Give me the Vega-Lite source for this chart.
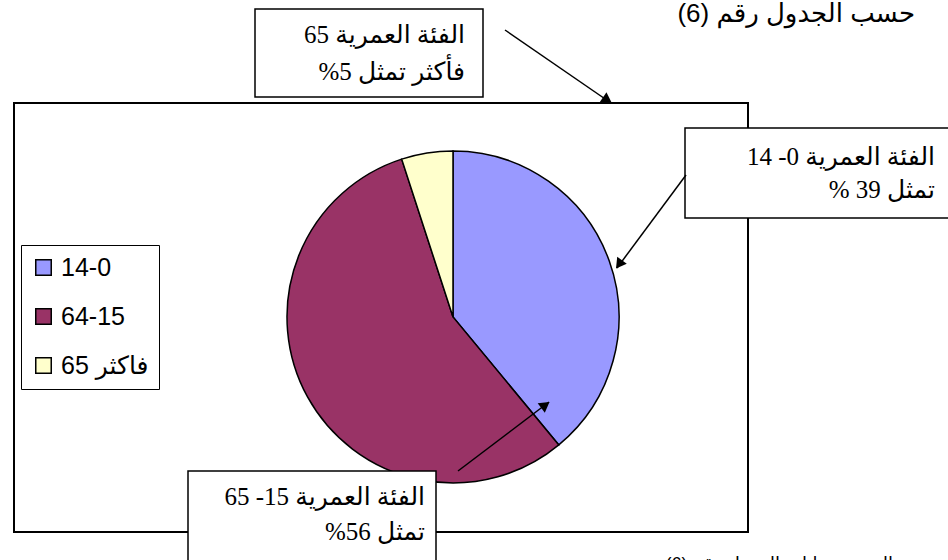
{
  "$schema": "https://vega.github.io/schema/vega-lite/v6.json",
  "width": 948,
  "height": 560,
  "padding": 0,
  "autosize": {"type": "none"},
  "background": "white",
  "config": {"view": {"stroke": null}},
  "datasets": {
    "pie": [
      {"group": "14-0", "share": 39, "rank": 1},
      {"group": "64-15", "share": 56, "rank": 2},
      {"group": "65 فاكثر", "share": 5, "rank": 3}
    ],
    "frame": [{"x1": 14, "y1": 103, "x2": 748, "y2": 532}],
    "boxes": [
      {"x1": 255, "y1": 9, "x2": 483, "y2": 97},
      {"x1": 685, "y1": 128, "x2": 960, "y2": 218},
      {"x1": 188, "y1": 471, "x2": 436, "y2": 590}
    ],
    "notes": [
      {"x": 465, "y": 43, "t": "‫الفئة العمرية 65‬"},
      {"x": 465, "y": 80, "t": "‫فأكثر تمثل 5%‬"},
      {"x": 935, "y": 165, "t": "‫الفئة العمرية 0- 14‬"},
      {"x": 935, "y": 198, "t": "‫تمثل 39 %‬"},
      {"x": 425, "y": 505, "t": "‫الفئة العمرية 15- 65‬"},
      {"x": 425, "y": 540, "t": "‫تمثل 56%‬"}
    ],
    "heading": [
      {"x": 915, "y": 22, "t": "‫حسب الجدول رقم (6)‬"}
    ],
    "source": [
      {"x": 893, "y": 570, "t": "‫المصدر: بيانات الجدول رقم (6)‬"}
    ],
    "arrows": [
      {"x1": 505, "y1": 30, "x2": 611, "y2": 103, "hx": 606, "hy": 99, "ang": 124},
      {"x1": 686, "y1": 175, "x2": 617, "y2": 268, "hx": 620, "hy": 263, "ang": 216},
      {"x1": 458, "y1": 471, "x2": 549, "y2": 402, "hx": 544, "hy": 406, "ang": 53}
    ]
  },
  "layer": [
    {
      "data": {"name": "frame"},
      "mark": {"type": "rect", "fill": "white", "stroke": "black", "strokeWidth": 2},
      "encoding": {
        "x": {"field": "x1", "type": "quantitative", "scale": {"domain": [0, 948], "nice": false, "zero": false}, "axis": null},
        "x2": {"field": "x2"},
        "y": {"field": "y1", "type": "quantitative", "scale": {"domain": [0, 560], "nice": false, "zero": false, "reverse": true}, "axis": null},
        "y2": {"field": "y2"}
      }
    },
    {
      "data": {"name": "pie"},
      "mark": {"type": "arc", "radius": 166, "stroke": "black", "strokeWidth": 1.5},
      "encoding": {
        "theta": {"field": "share", "type": "quantitative"},
        "order": {"field": "rank", "type": "quantitative"},
        "color": {
          "field": "group",
          "type": "nominal",
          "sort": null,
          "scale": {"domain": ["14-0", "64-15", "65 فاكثر"], "range": ["#9999FF", "#993366", "#FFFFCC"]},
          "legend": {
            "orient": "none",
            "legendX": 21,
            "legendY": 245,
            "title": null,
            "symbolType": "square",
            "symbolSize": 240,
            "symbolStrokeColor": "black",
            "symbolStrokeWidth": 1.5,
            "symbolOpacity": 1,
            "labelFont": "Liberation Sans, DejaVu Sans",
            "labelFontSize": 25,
            "labelColor": "black",
            "labelOffset": 5,
            "labelLimit": 300,
            "rowPadding": 23,
            "padding": 10,
            "strokeColor": "black",
            "fillColor": "white"
          }
        },
        "x": {"datum": 453, "type": "quantitative", "scale": {"domain": [0, 948], "nice": false, "zero": false}, "axis": null},
        "y": {"datum": 317, "type": "quantitative", "scale": {"domain": [0, 560], "nice": false, "zero": false, "reverse": true}, "axis": null}
      }
    },
    {
      "data": {"name": "boxes"},
      "mark": {"type": "rect", "fill": "white", "stroke": "black", "strokeWidth": 1.5},
      "encoding": {
        "x": {"field": "x1", "type": "quantitative", "scale": {"domain": [0, 948], "nice": false, "zero": false}, "axis": null},
        "x2": {"field": "x2"},
        "y": {"field": "y1", "type": "quantitative", "scale": {"domain": [0, 560], "nice": false, "zero": false, "reverse": true}, "axis": null},
        "y2": {"field": "y2"}
      }
    },
    {
      "data": {"name": "notes"},
      "mark": {"type": "text", "align": "right", "baseline": "alphabetic", "font": "Liberation Serif, DejaVu Sans", "fontSize": 25, "color": "black"},
      "encoding": {
        "x": {"field": "x", "type": "quantitative", "scale": {"domain": [0, 948], "nice": false, "zero": false}, "axis": null},
        "y": {"field": "y", "type": "quantitative", "scale": {"domain": [0, 560], "nice": false, "zero": false, "reverse": true}, "axis": null},
        "text": {"field": "t"}
      }
    },
    {
      "data": {"name": "heading"},
      "mark": {"type": "text", "align": "right", "baseline": "alphabetic", "font": "Liberation Sans, DejaVu Sans", "fontSize": 26, "color": "black"},
      "encoding": {
        "x": {"field": "x", "type": "quantitative", "scale": {"domain": [0, 948], "nice": false, "zero": false}, "axis": null},
        "y": {"field": "y", "type": "quantitative", "scale": {"domain": [0, 560], "nice": false, "zero": false, "reverse": true}, "axis": null},
        "text": {"field": "t"}
      }
    },
    {
      "data": {"name": "source"},
      "mark": {"type": "text", "align": "right", "baseline": "alphabetic", "font": "Liberation Sans, DejaVu Sans", "fontSize": 18, "color": "black"},
      "encoding": {
        "x": {"field": "x", "type": "quantitative", "scale": {"domain": [0, 948], "nice": false, "zero": false}, "axis": null},
        "y": {"field": "y", "type": "quantitative", "scale": {"domain": [0, 560], "nice": false, "zero": false, "reverse": true}, "axis": null},
        "text": {"field": "t"}
      }
    },
    {
      "data": {"name": "arrows"},
      "mark": {"type": "rule", "color": "black", "strokeWidth": 1.5},
      "encoding": {
        "x": {"field": "x1", "type": "quantitative", "scale": {"domain": [0, 948], "nice": false, "zero": false}, "axis": null},
        "x2": {"field": "x2"},
        "y": {"field": "y1", "type": "quantitative", "scale": {"domain": [0, 560], "nice": false, "zero": false, "reverse": true}, "axis": null},
        "y2": {"field": "y2"}
      }
    },
    {
      "data": {"name": "arrows"},
      "mark": {"type": "point", "shape": "triangle", "filled": true, "color": "black", "opacity": 1, "size": 140},
      "encoding": {
        "x": {"field": "hx", "type": "quantitative", "scale": {"domain": [0, 948], "nice": false, "zero": false}, "axis": null},
        "y": {"field": "hy", "type": "quantitative", "scale": {"domain": [0, 560], "nice": false, "zero": false, "reverse": true}, "axis": null},
        "angle": {"field": "ang", "type": "quantitative", "scale": null}
      }
    }
  ]
}
